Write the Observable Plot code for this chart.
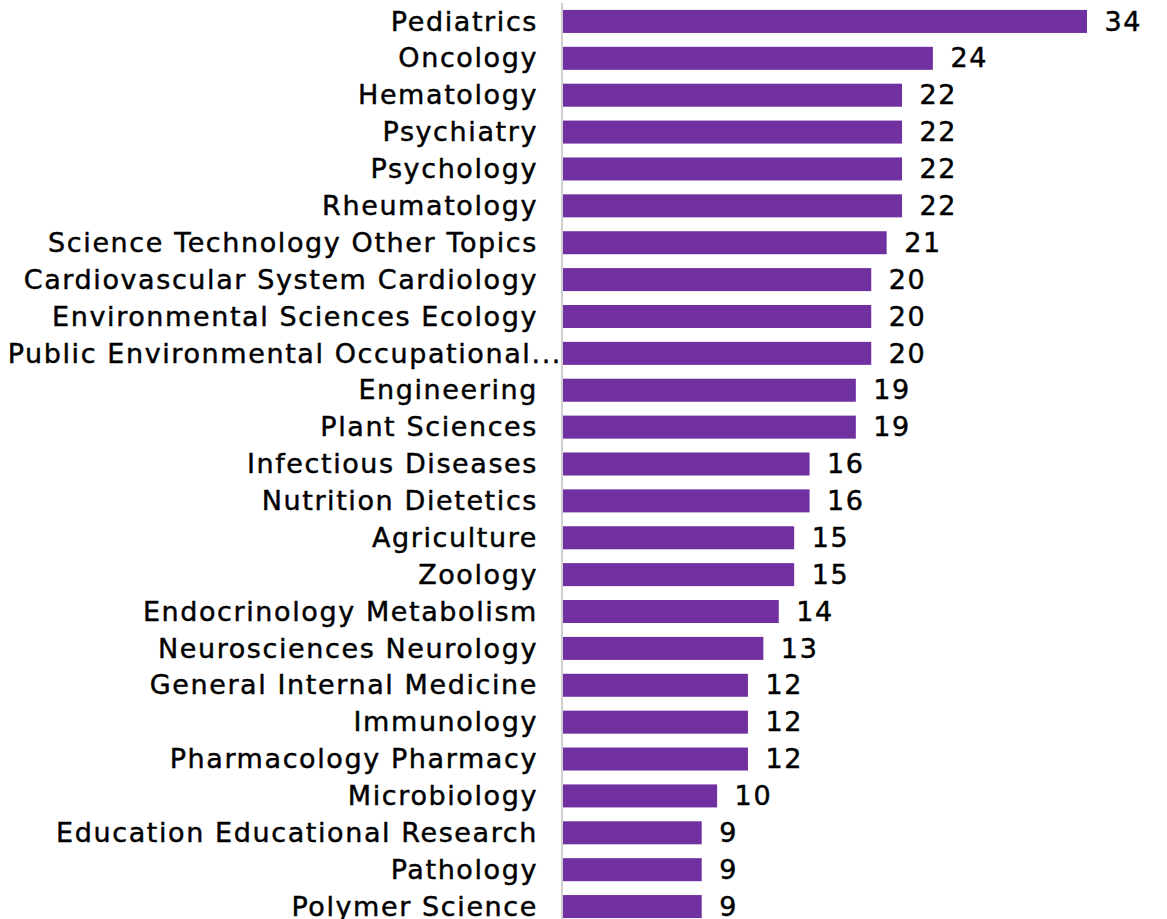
<!DOCTYPE html>
<html>
<head>
<meta charset="utf-8">
<script src="https://cdn.jsdelivr.net/npm/d3@7"></script>
<script src="https://cdn.jsdelivr.net/npm/@observablehq/plot@0.6"></script>
<style>
  html, body { margin: 0; padding: 0; background: white; overflow: hidden; }
  #chart svg text { letter-spacing: 1.6px; stroke: black; stroke-width: 0.45px; }
</style>
</head>
<body>
<div id="chart"></div>
<script>
const categories = [
  "Pediatrics", "Oncology", "Hematology", "Psychiatry", "Psychology", "Rheumatology",
  "Science Technology Other Topics", "Cardiovascular System Cardiology",
  "Environmental Sciences Ecology", "Public Environmental Occupational...",
  "Engineering", "Plant Sciences", "Infectious Diseases", "Nutrition Dietetics",
  "Agriculture", "Zoology", "Endocrinology Metabolism", "Neurosciences Neurology",
  "General Internal Medicine", "Immunology", "Pharmacology Pharmacy", "Microbiology",
  "Education Educational Research", "Pathology", "Polymer Science"
];
const counts = [34, 24, 22, 22, 22, 22, 21, 20, 20, 20, 19, 19, 16, 16, 15, 15, 14, 13, 12, 12, 12, 10, 9, 9, 9];

const data = categories.map((c, i) => ({category: c, count: counts[i]}));
const truncated = d => d.category.endsWith("...");

const chart = Plot.plot({
  width: 1167,
  height: 919,
  marginLeft: 563,
  marginRight: 80,
  marginTop: 3,
  marginBottom: 0,
  style: {fontFamily: "'DejaVu Sans', sans-serif", fontSize: "27px", color: "black", background: "white"},
  x: {domain: [0, 34], axis: null},
  y: {domain: categories, range: [3, 925], round: false, padding: 0.376, paddingOuter: 0.188, axis: null},
  marks: [
    Plot.ruleX([0], {stroke: "#d0d0d0", strokeWidth: 2, dx: -1.5}),
    Plot.barX(data, {x: "count", y: "category", fill: "#7030A0"}),
    Plot.text(data.filter(d => !truncated(d)), {x: 0, y: "category", text: "category", textAnchor: "end", dx: -25.5, fontSize: 27, fill: "black"}),
    Plot.text(data.filter(truncated), {x: 0, y: "category", text: "category", textAnchor: "end", dx: -1.5, fontSize: 27, fill: "black"}),
    Plot.text(data, {x: "count", y: "category", text: d => String(d.count), textAnchor: "start", dx: 17, fontSize: 27, fill: "black"})
  ]
});
document.getElementById("chart").appendChild(chart);
</script>
</body>
</html>
